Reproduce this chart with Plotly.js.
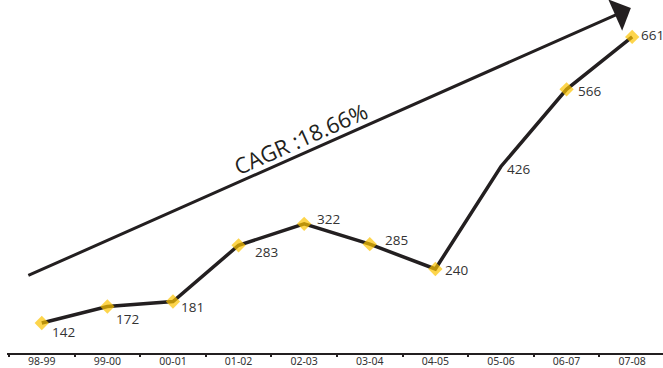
<!DOCTYPE html>
<html>
<head>
<meta charset="utf-8">
<script src="https://cdn.plot.ly/plotly-3.0.1.min.js"></script>
<style>html,body{margin:0;padding:0;background:#fff;}#chart{width:663px;height:368px;}</style>
</head>
<body>
<div id="chart"></div>
<script>
const years = ['98-99','99-00','00-01','01-02','02-03','03-04','04-05','05-06','06-07','07-08'];
const values = [142, 172, 181, 283, 322, 285, 240, 426, 566, 661];
const cagrText = 'CAGR :18.66%';

// label offsets from each point, in pixels (right, down)
const labelDx = [8, 7, 6, 14, 11, 13, 8, 4, 9, 7];
const labelDy = [9, 13, 5, 7, -5, -4, 1, 3, 2, -2];

const markerSizes = values.map((v, i) => i === 7 ? 0 : 11);

const trace = {
  type: 'scatter',
  mode: 'lines+markers',
  x: years,
  y: values,
  line: {color: '#231f20', width: 3.5},
  marker: {symbol: 'diamond', color: '#fcc300', size: markerSizes, line: {width: 0}},
  cliponaxis: false,
  hoverinfo: 'skip'
};

const valueLabels = values.map((v, i) => ({
  xref: 'x', yref: 'y', x: years[i], y: v,
  text: String(v), showarrow: false,
  xanchor: 'left', yanchor: 'middle',
  xshift: labelDx[i], yshift: -labelDy[i],
  font: {family: 'Open Sans, sans-serif', size: 13.5, color: '#333'}
}));

const layout = {
  width: 663, height: 368,
  margin: {l: 7, r: 0, t: 0, b: 15},
  paper_bgcolor: '#fff', plot_bgcolor: '#fff',
  showlegend: false,
  xaxis: {
    type: 'category',
    range: [-0.53, 9.47],
    showgrid: false, zeroline: false,
    showline: true, linecolor: '#231f20', linewidth: 2,
    ticks: 'outside', tickson: 'boundaries', ticklen: 2, tickwidth: 2, tickcolor: '#231f20',
    ticklabelstandoff: -3,
    tickfont: {family: 'Noto Sans, sans-serif', size: 10.5, color: '#333'},
    fixedrange: true
  },
  yaxis: {
    range: [87.6, 728],
    visible: false, showgrid: false, zeroline: false, fixedrange: true
  },
  annotations: [
    {
      xref: 'paper', yref: 'paper', x: 0.951, y: 0.977,
      axref: 'pixel', ayref: 'pixel', ax: -604, ay: 268,
      text: '', showarrow: true,
      arrowhead: 1, arrowsize: 1.9, arrowwidth: 3, arrowcolor: '#231f20'
    },
    {
      xref: 'paper', yref: 'paper', x: 0.448, y: 0.609,
      text: cagrText, showarrow: false, textangle: -24,
      font: {family: 'Open Sans, sans-serif', size: 22, color: '#231f20'}
    }
  ].concat(valueLabels)
};

Plotly.newPlot('chart', [trace], layout, {displayModeBar: false, staticPlot: true});
</script>
</body>
</html>
